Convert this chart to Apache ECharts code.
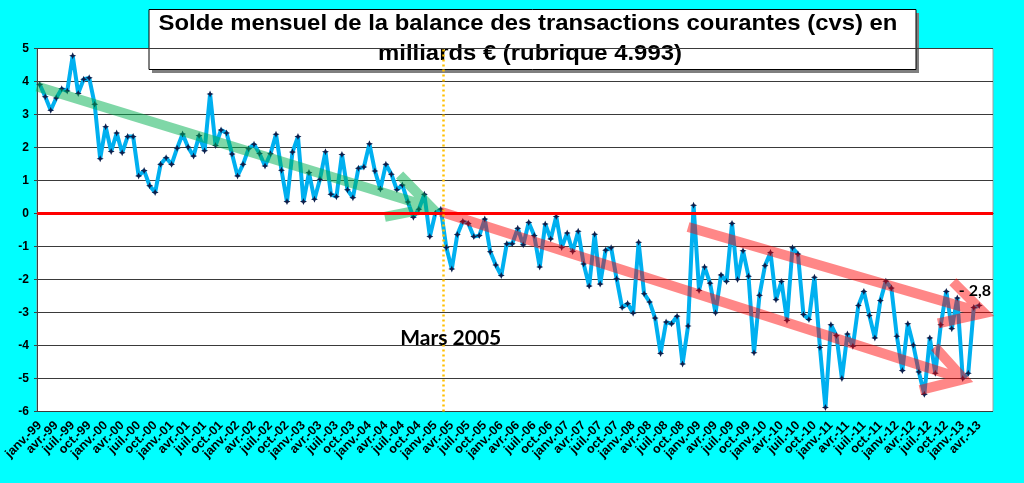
<!DOCTYPE html>
<html>
<head>
<meta charset="utf-8">
<title>Solde mensuel de la balance des transactions courantes</title>
<script src="https://cdn.jsdelivr.net/npm/echarts@6/dist/echarts.min.js"></script>
<style>
  html, body { margin: 0; padding: 0; background: #00ffff; }
  #chart-container { width: 1024px; height: 483px; }
</style>
</head>
<body>
<div id="chart-container"></div>
<script>
// mois et années de l'axe (janv.-99 -> juin-13)
var moisNoms = ["janv.", "févr.", "mars", "avr.", "mai", "juin", "juil.", "août", "sept.", "oct.", "nov.", "déc."];
var annees = ["99", "00", "01", "02", "03", "04", "05", "06", "07", "08", "09", "10", "11", "12", "13"];
var nbMois = 174;

// solde mensuel (milliards €), janv.-99 -> avr.-13
var solde = [
  3.91, 3.54, 3.13, 3.50, 3.78, 3.71, 4.78, 3.64, 4.07, 4.11, 3.31, 1.66,
  2.63, 1.88, 2.44, 1.84, 2.33, 2.33, 1.14, 1.30, 0.84, 0.64, 1.49, 1.69,
  1.49, 1.98, 2.41, 2.01, 1.74, 2.36, 1.90, 3.62, 2.06, 2.53, 2.44, 1.80,
  1.14, 1.49, 1.96, 2.10, 1.82, 1.44, 1.81, 2.40, 1.31, 0.36, 1.86, 2.33,
  0.36, 1.24, 0.43, 1.04, 1.87, 0.58, 0.51, 1.79, 0.72, 0.48, 1.37, 1.41,
  2.11, 1.29, 0.74, 1.49, 1.19, 0.72, 0.86, 0.35, -0.11, 0.13, 0.58, -0.70,
  0.01, 0.13, -1.03, -1.68, -0.64, -0.24, -0.30, -0.70, -0.67, -0.17, -1.16, -1.56,
  -1.88, -0.92, -0.92, -0.45, -0.95, -0.27, -0.67, -1.62, -0.32, -0.77, -0.09, -1.03,
  -0.59, -1.15, -0.54, -1.53, -2.20, -0.63, -2.14, -1.11, -1.04, -1.98, -2.85, -2.73,
  -3.02, -0.87, -2.43, -2.68, -3.17, -4.24, -3.29, -3.34, -3.11, -4.56, -3.41, 0.25,
  -2.33, -1.62, -2.11, -3.01, -1.86, -2.06, -0.30, -2.00, -1.13, -1.90, -4.22, -2.48,
  -1.58, -1.18, -2.61, -2.06, -3.24, -1.04, -1.23, -3.06, -3.21, -1.93, -4.06, -5.88,
  -3.37, -3.70, -5.00, -3.65, -4.02, -2.79, -2.36, -3.09, -3.77, -2.64, -2.05, -2.26,
  -3.72, -4.76, -3.34, -3.99, -4.80, -5.48, -3.77, -4.84, -3.37, -2.36, -3.49, -2.56,
  -5.00, -4.84, -2.85, -2.79
];

// flèches de tendance : [départ, pointe, barbe 1, barbe 2] en (mois, valeur)
var flecheVerte = [[0, 3.85], [71.8, 0.18], [66.0, 1.17], [63.3, -0.1]];
var flecheRouge1 = [[73.5, 0.05], [168.7, -5.02], [163.4, -4.04], [160.7, -5.35]];
var flecheRouge2 = [[118.5, -0.41], [172.4, -3.02], [166.7, -2.07], [164.0, -3.33]];

// annotations
var notes = [[75.3, -3.77, "Mars 2005"], [170.7, -2.35, "- 2,8"]];
var moisMars2005 = 74;

var categories = [];
annees.forEach(function (a) {
  moisNoms.forEach(function (m) {
    categories.push(m + "-" + a);
  });
});
categories = categories.slice(0, nbMois);

var fleches = [
  { pts: flecheVerte, color: "rgba(0,176,80,0.5)" },
  { pts: flecheRouge1, color: "rgba(255,0,0,0.47)" },
  { pts: flecheRouge2, color: "rgba(255,0,0,0.47)" }
];

var dom = document.getElementById("chart-container");
var myChart = echarts.init(dom, null, { renderer: "canvas" });

var star = "path://M0,-10 L3,-3 L10,0 L3,3 L0,10 L-3,3 L-10,0 L-3,-3 Z";
var titreFont = 'bold 22px "Liberation Sans", Arial, sans-serif';

var option = {
  backgroundColor: "#00ffff",
  animation: false,
  grid: {
    left: 37,
    right: 31,
    top: 48.5,
    bottom: 71.5,
    show: true,
    backgroundColor: "#ffffff",
    borderColor: "#a0a0a0",
    borderWidth: 1
  },
  graphic: [
    { type: "rect", shape: { x: 152, y: 13, width: 767, height: 60 }, style: { fill: "#7f7f7f" } },
    { type: "rect", shape: { x: 149, y: 9.5, width: 767, height: 60 }, style: { fill: "#ffffff", stroke: "#000000", lineWidth: 1 } },
    {
      type: "text", x: 528, y: 24, scaleX: 1.085,
      style: {
        text: "Solde mensuel de la balance des transactions courantes (cvs) en",
        font: titreFont, fill: "#000", align: "center", verticalAlign: "middle"
      }
    },
    {
      type: "text", x: 530, y: 54, scaleX: 1.085,
      style: {
        text: "milliards € (rubrique 4.993)",
        font: titreFont, fill: "#000", align: "center", verticalAlign: "middle"
      }
    }
  ],
  xAxis: [
    {
      type: "category",
      data: categories,
      boundaryGap: true,
      axisLine: { lineStyle: { color: "#000", width: 1 } },
      axisTick: { interval: 2, length: 4, lineStyle: { color: "#000" } },
      axisLabel: {
        interval: 0,
        formatter: function (v, i) { return (i % 3 === 0 && i < solde.length) ? v : ""; },
        rotate: 45,
        margin: 12,
        hideOverlap: false,
        color: "#000",
        fontFamily: '"Liberation Sans", Arial, sans-serif',
        fontWeight: "bold",
        fontSize: 12.5
      },
      splitLine: { show: false }
    },
    { type: "value", min: 0, max: nbMois, show: false }
  ],
  yAxis: {
    type: "value",
    min: -6,
    max: 5,
    interval: 1,
    axisLine: { show: true, lineStyle: { color: "#404040" } },
    axisTick: { show: true, length: 3, lineStyle: { color: "#404040" } },
    axisLabel: {
      margin: 8,
      color: "#000",
      fontFamily: '"Liberation Sans", Arial, sans-serif',
      fontWeight: "bold",
      fontSize: 12
    },
    splitLine: { lineStyle: { color: "#3a3a3a", width: 1 } }
  },
  series: [
    {
      type: "line",
      data: solde,
      z: 3,
      symbol: star,
      symbolSize: 7,
      showAllSymbol: true,
      lineStyle: { color: "#00b0f0", width: 4 },
      itemStyle: { color: "#0d1f4c" },
      markLine: {
        silent: true,
        symbol: "none",
        label: { show: false },
        lineStyle: { color: "#ff0000", width: 3, type: "solid" },
        data: [{ yAxis: 0 }]
      }
    },
    {
      type: "custom",
      xAxisIndex: 1,
      yAxisIndex: 0,
      z: 4,
      silent: true,
      data: fleches.map(function (f, i) { return [i]; }),
      renderItem: function (params, api) {
        var f = fleches[params.dataIndex];
        var p = f.pts.map(function (d) { return api.coord(d); });
        var d = "M" + p[0][0] + " " + p[0][1] + " L" + p[1][0] + " " + p[1][1] +
          " M" + p[2][0] + " " + p[2][1] + " L" + p[1][0] + " " + p[1][1] +
          " L" + p[3][0] + " " + p[3][1];
        return {
          type: "path",
          shape: { pathData: d },
          style: { fill: null, stroke: f.color, lineWidth: 10, lineJoin: "miter", lineCap: "butt" }
        };
      },
      markLine: {
        silent: true,
        symbol: "none",
        label: { show: false },
        lineStyle: { color: "#ffc000", width: 2.5, type: [2, 3] },
        data: [{ xAxis: moisMars2005 }]
      }
    },
    {
      type: "custom",
      xAxisIndex: 1,
      yAxisIndex: 0,
      z: 5,
      silent: true,
      data: notes,
      renderItem: function (params, api) {
        var p = api.coord([api.value(0), api.value(1)]);
        return {
          type: "text",
          x: p[0],
          y: p[1],
          style: {
            text: notes[params.dataIndex][2],
            font: 'bold ' + (params.dataIndex === 0 ? 21 : 16) + 'px Lato, "Open Sans", sans-serif',
            fill: "#000",
            align: "center",
            verticalAlign: "middle"
          }
        };
      }
    }
  ]
};

myChart.setOption(option);
window.addEventListener("resize", myChart.resize);
</script>
</body>
</html>
